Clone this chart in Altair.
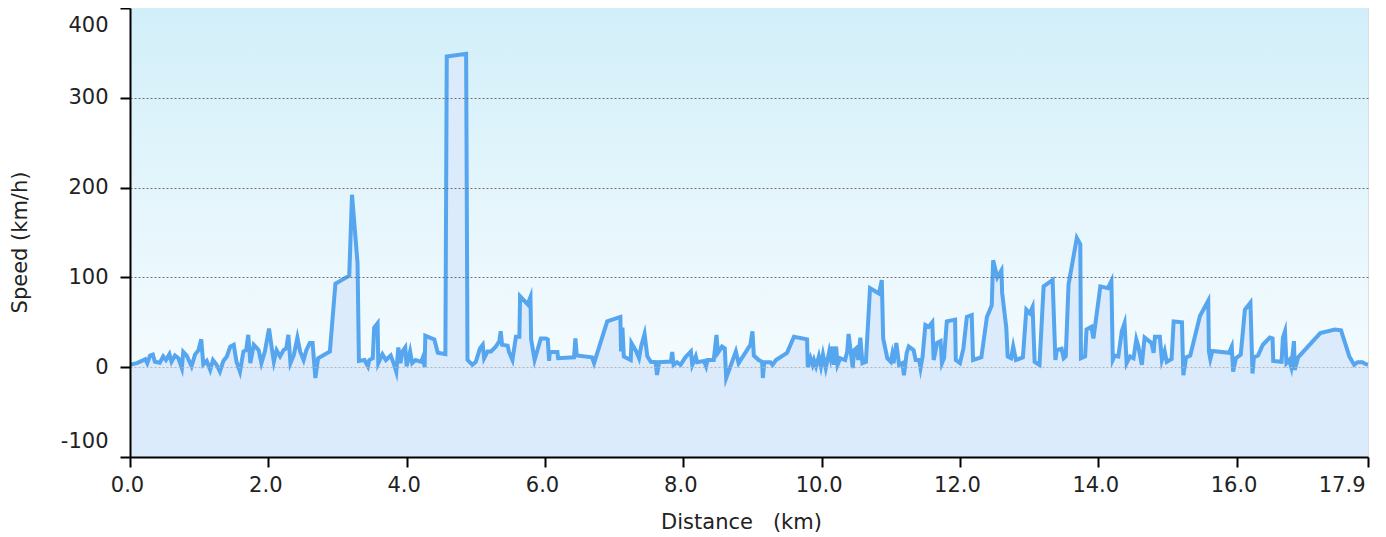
import altair as alt
import pandas as pd

km = [
    0.00, 0.02, 0.10, 0.17, 0.22, 0.25, 0.29, 0.33, 0.36, 0.43, 0.48, 0.52, 0.57, 0.60, 0.65, 0.70,
    0.75, 0.77, 0.82, 0.89, 0.94, 0.99, 1.03, 1.06, 1.11, 1.16, 1.20, 1.25, 1.30, 1.35, 1.40, 1.45,
    1.50, 1.54, 1.59, 1.64, 1.68, 1.71, 1.74, 1.79, 1.86, 1.90, 1.95, 2.01, 2.05, 2.08, 2.12, 2.17,
    2.22, 2.26, 2.29, 2.32, 2.37, 2.42, 2.46, 2.51, 2.55, 2.60, 2.64, 2.68, 2.72, 2.89,
    2.97, 3.17, 3.21, 3.29, 3.31, 3.39, 3.44, 3.46, 3.51, 3.53, 3.58, 3.59, 3.65, 3.70, 3.77, 3.82,
    3.85, 3.88, 3.91, 3.94, 3.98, 4.00, 4.05, 4.08, 4.13, 4.21, 4.24, 4.26, 4.27, 4.40, 4.45, 4.56,
    4.58, 4.86, 4.88, 4.95, 5.00, 5.06, 5.10, 5.12, 5.17, 5.22, 5.29, 5.34, 5.36, 5.38, 5.46, 5.48,
    5.53, 5.58, 5.63, 5.64, 5.75, 5.79, 5.80, 5.85, 5.94, 6.01,
    6.04, 6.06, 6.07, 6.18, 6.19, 6.42, 6.44, 6.46, 6.68, 6.71, 6.90, 7.09, 7.10, 7.12, 7.14, 7.24,
    7.25, 7.32, 7.36, 7.39, 7.44, 7.48, 7.53, 7.60, 7.62, 7.65, 7.77, 7.82, 7.84, 7.86, 7.91, 7.96,
    8.03, 8.11, 8.13, 8.18, 8.20, 8.30, 8.33, 8.35, 8.44, 8.48, 8.50, 8.56, 8.60, 8.62, 8.76, 8.80,
    8.97, 9.00, 9.02,
    9.09, 9.14, 9.15, 9.17, 9.26, 9.29, 9.34, 9.50, 9.60, 9.79, 9.80, 9.84, 9.87, 9.89, 9.92, 9.96,
    9.99, 10.02, 10.06, 10.11, 10.13, 10.16, 10.18, 10.21, 10.23, 10.27, 10.34, 10.37, 10.39, 10.42,
    10.45, 10.47, 10.50, 10.53, 10.56, 10.59, 10.64, 10.70, 10.83, 10.87, 10.89, 10.95, 11.00, 11.02,
    11.04, 11.08, 11.12, 11.17, 11.19, 11.23, 11.26, 11.33, 11.36, 11.41, 11.43, 11.46, 11.50, 11.55,
    11.60, 11.62, 11.67, 11.72, 11.74, 11.77, 11.81, 11.93, 11.94, 12.00,
    12.05, 12.10, 12.17, 12.19, 12.31, 12.39, 12.46, 12.48, 12.54, 12.60, 12.61, 12.67, 12.69, 12.74,
    12.77, 12.81, 12.91, 12.96, 13.01, 13.05, 13.08, 13.15, 13.21, 13.34, 13.38, 13.40, 13.47, 13.50,
    13.53, 13.57, 13.69, 13.74, 13.75, 13.81, 13.83, 13.90, 13.93, 14.03, 14.14, 14.19, 14.21, 14.24,
    14.29, 14.34, 14.38, 14.41, 14.46, 14.51, 14.55, 14.58, 14.63, 14.67, 14.77, 14.80, 14.82, 14.89,
    14.92, 14.96, 14.99, 15.06, 15.09, 15.21, 15.23, 15.27, 15.33, 15.47, 15.59, 15.60, 15.62, 15.65,
    15.89, 15.93, 15.95, 15.99, 16.06, 16.12, 16.20, 16.23, 16.25, 16.31, 16.38, 16.48, 16.52, 16.53,
    16.65, 16.67, 16.70, 16.72, 16.76, 16.79, 16.83, 16.84, 16.89, 17.21, 17.42, 17.51, 17.63, 17.70,
    17.75, 17.82, 17.87, 17.90,
]

spd = [
    3, 3, 4.5, 7, 9, 4.5, 13, 14, 6, 5, 12, 8, 14.5, 6, 13, 10,
    -1, 17, 13, 1, 14, 19, 31, 3, 7, -3, 8, 3, -5, 7, 12, 23,
    25, 6, -5, 17.5, 19, 36, 4.5, 25, 19, 4.5, 17.5, 43, 21, 6, 19, 12,
    19, 21, 36, 4.5, 14, 33, 17.5, 8, 19, 27, 27, -12, 10, 17.5,
    93, 102, 192, 116, 7, 8, 1, 8, 10, 44, 49, 4.5, 14.5, 8, 13, 2.6,
    -5, 22, 4.5, 17.5, 22, 1, 17.5, 4.5, 8, 6, 12, 0, 35, 31, 16, 14.5,
    346, 349, 8, 2.6, 6, 21, 25, 10, 17.5, 17.5, 23, 29, 40, 25, 24, 17,
    8, 34, 34, 79, 70, 78, 31, 8, 32, 32,
    31, 7, 17, 17, 10, 11, 32, 13, 11, 4.5, 51, 56, 17.5, 44, 12, 8,
    27, 17.5, 10, 23, 37, 12, 6, 5.6, -8.6, 5.6, 6, 6, 17, 2.6, 5.6, 2.6,
    11, 17.5, 2.6, 12, 5.6, 7, 1, 8, 8, 36, 16, 23, 21, -12, 17.5, 4.5,
    25, 40, 13,
    8, 6, -12, 5.6, 5.6, 2.6, 8, 16, 34, 31, 0, 10, 2.6, 8, 1, 12,
    1, 14, -1, 17.5, 10, 23, 2.6, 23, 2.6, 10, 8, 17.5, 37, 17.5,
    -1, 19, 21, 8, 33, 4.5, 6, 88, 82, 97, 32, 10, 6, 14,
    4.5, 27, 2.6, 4.5, -9, 16, 23, 19, 8, 8, -1, 12, 47, 45,
    50, 8, 27, 29, 4.5, 10, 51, 53, 8, 4.5,
    21, 56, 58, 8, 11, 56, 69, 119, 100, 108, 83, 44, 12, 10,
    23, 8, 11, 64, 60, 67, 6, 2.6, 90, 97, 8, 19, 20.5, 10,
    12, 92, 144, 137, 10, 12, 42, 45, 32, 90, 88, 96, 8, 13,
    12, 40, 49, 4.5, 12, 10, 31, 23, 2.6, 33, 27, 16, 34, 34,
    8, 18, 6, 9, 51, 50, -9, 11, 13, 57, 74, 17.5, 9, 18,
    16, 23, -5, 10, 14, 64, 72, -7, 11, 13, 25, 33, 32, 7,
    6, 33, 40, 4.5, 8, 0, 29, -3, 11, 38, 42, 41, 12, 2.6,
    5.6, 5.6, 3.4, 3,
]

x_ticks = [0, 2, 4, 6, 8, 10, 12, 14, 16, 17.9]
y_ticks = [-100, 0, 100, 200, 300, 400]

df = pd.DataFrame({"km": km, "spd": spd})

W, H = 1238, 449
FONT = "DejaVu Sans"
XTITLE = "Distance\u00a0\u00a0\u00a0(km)"
YTITLE = "Speed (km/h)"
xs = alt.Scale(domain=[0, 17.9], nice=False, zero=False)
ys = alt.Scale(domain=[-100, 400], nice=False)

xax = alt.Axis(
    values=x_ticks, format=".1f", title=XTITLE, grid=False,
    domainColor="black", domainWidth=2, tickColor="black", tickWidth=2, tickSize=10,
    labelFontSize=21, labelFont=FONT, labelColor="#222", labelPadding=7,
    labelAlign={"condition": {"test": "datum.value > 17", "value": "right"}, "value": "center"},
    labelOffset=-3, labelOverlap=False,
    titleFontSize=21, titleFont=FONT, titleFontWeight="normal", titleColor="#222",
    titleX=611, titleY=65, titleBaseline="middle", titleAlign="center", zindex=1,
)

yax = alt.Axis(
    values=y_ticks, title=YTITLE, grid=True,
    gridColor={"condition": {"test": "datum.value == 0", "value": "#b5b5b5"}, "value": "#6e6e6e"},
    gridOpacity={"condition": {"test": "datum.value == 400 || datum.value == -100", "value": 0}, "value": 1},
    gridDash=[2, 2], gridWidth=1,
    domainColor="black", domainWidth=2, tickColor="black", tickWidth=2, tickSize=10,
    labelFontSize=21, labelFont=FONT, labelColor="#222", labelPadding=12,
    labelFlush=True, labelFlushOffset=-6,
    labelExpr="replace(datum.label, '\u2212', '-')",
    titleFontSize=21, titleFont=FONT, titleFontWeight="normal", titleColor="#222",
    titleX=-110, titleY=234, titleAngle=-90, titleBaseline="middle", titleAlign="center", zindex=1,
)

grad = alt.LinearGradient(
    gradient="linear",
    stops=[alt.GradientStop(color="#d2eff9", offset=0), alt.GradientStop(color="#f4fbfe", offset=1)],
    x1=0, x2=0, y1=0, y2=1,
)

bg = alt.Chart(alt.Data(values=[{"a": 1}])).mark_rect(color=grad).encode(
    x=alt.value(0), x2=alt.value(W),
    y=alt.YDatum(400, scale=ys, axis=yax, title=YTITLE),
    y2=alt.Y2Datum(0),
)

area = alt.Chart(df).mark_area(color="#dcebfc", opacity=1).encode(
    x=alt.X("km:Q", scale=xs, axis=xax, title=XTITLE),
    y=alt.Y("spd:Q", scale=ys, axis=yax, title=YTITLE),
    y2=alt.Y2Datum(-100),
)

line = alt.Chart(df).mark_line(color="#55a5ef", strokeWidth=4, strokeMiterLimit=6).encode(
    x=alt.X("km:Q", scale=xs, axis=xax, title=XTITLE),
    y=alt.Y("spd:Q", scale=ys, axis=yax, title=YTITLE),
)

chart = alt.layer(bg, area, line).properties(
    width=W, height=H,
    padding={"left": 122, "top": 0, "right": 10, "bottom": 78},
    autosize=alt.AutoSizeParams(type="none"),
).configure_view(stroke="#d8d8d8", strokeWidth=1).configure(font=FONT)

chart.save("out.html", embed_options={"renderer": "svg", "actions": False})
